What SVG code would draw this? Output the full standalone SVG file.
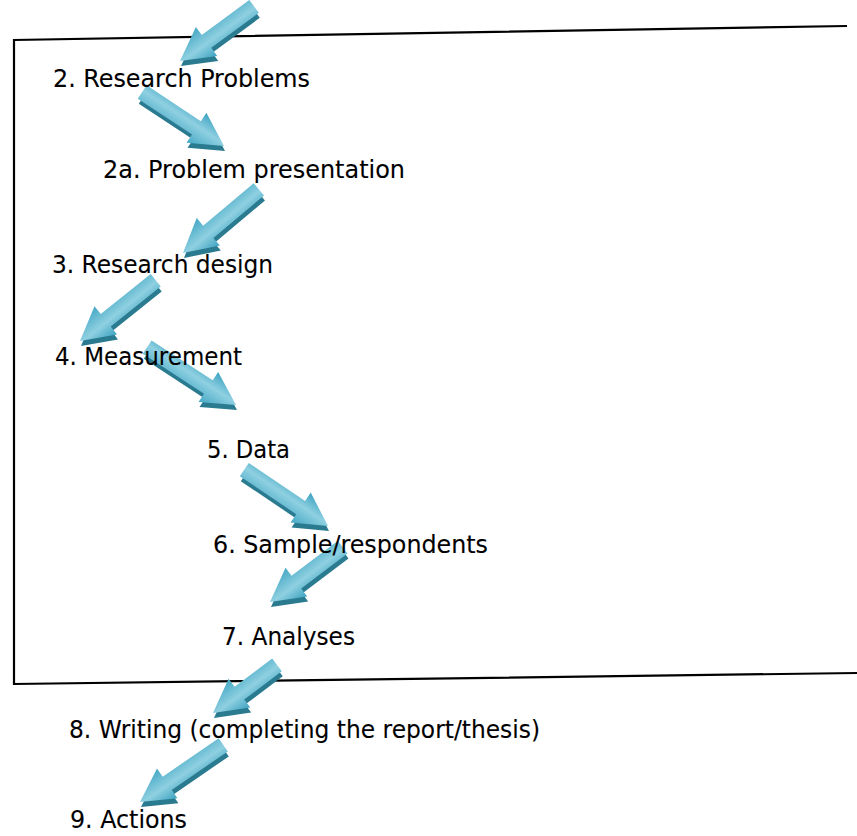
<svg xmlns="http://www.w3.org/2000/svg" width="857" height="836" viewBox="0 0 857 836">
<style>
.lbl{font-family:"DejaVu Sans","Liberation Sans",sans-serif;font-size:24px;fill:#000;stroke:#000;stroke-width:0.1}
.ar{fill:url(#g)}
.sh{fill:#2a7a90}
.frame{fill:none;stroke:#000;stroke-width:2.2}
</style>
<defs>
<linearGradient id="g" gradientUnits="userSpaceOnUse" x1="0" y1="-18" x2="0" y2="18">
<stop offset="0" stop-color="#3da3c1"/>
<stop offset="0.45" stop-color="#8fd0e1"/>
<stop offset="1" stop-color="#45a8c5"/>
</linearGradient>
</defs>
<g id="frame">
<polyline class="frame" points="847,26 14,40 14,684 857,673"/>
</g>
<g id="connectors">
<g transform="translate(180,61)"><path class="sh" transform="translate(1,5) rotate(143.6)" d="M0,0 L-33,-18 L-33,-8 L-92,-8 L-92,8 L-33,8 L-33,18 Z"/><path class="ar" transform="rotate(143.6)" d="M0,0 L-33,-18 L-33,-8 L-92,-8 L-92,8 L-33,8 L-33,18 Z"/></g>
<g transform="translate(224,146)"><path class="sh" transform="translate(1,5) rotate(33.4)" d="M0,0 L-33,-18 L-33,-8 L-98,-8 L-98,8 L-33,8 L-33,18 Z"/><path class="ar" transform="rotate(33.4)" d="M0,0 L-33,-18 L-33,-8 L-98,-8 L-98,8 L-33,8 L-33,18 Z"/></g>
<g transform="translate(183,253)"><path class="sh" transform="translate(1,5) rotate(140)" d="M0,0 L-33,-18 L-33,-8 L-99,-8 L-99,8 L-33,8 L-33,18 Z"/><path class="ar" transform="rotate(140)" d="M0,0 L-33,-18 L-33,-8 L-99,-8 L-99,8 L-33,8 L-33,18 Z"/></g>
<g transform="translate(80,341)"><path class="sh" transform="translate(1,5) rotate(141.3)" d="M0,0 L-33,-18 L-33,-8 L-97,-8 L-97,8 L-33,8 L-33,18 Z"/><path class="ar" transform="rotate(141.3)" d="M0,0 L-33,-18 L-33,-8 L-97,-8 L-97,8 L-33,8 L-33,18 Z"/></g>
<g transform="translate(236,405)"><path class="sh" transform="translate(1,5) rotate(33.1)" d="M0,0 L-33,-18 L-33,-8 L-106,-8 L-106,8 L-33,8 L-33,18 Z"/><path class="ar" transform="rotate(33.1)" d="M0,0 L-33,-18 L-33,-8 L-106,-8 L-106,8 L-33,8 L-33,18 Z"/></g>
<g transform="translate(328,526)"><path class="sh" transform="translate(1,5) rotate(34)" d="M0,0 L-33,-18 L-33,-8 L-101,-8 L-101,8 L-33,8 L-33,18 Z"/><path class="ar" transform="rotate(34)" d="M0,0 L-33,-18 L-33,-8 L-101,-8 L-101,8 L-33,8 L-33,18 Z"/></g>
<g transform="translate(270,602)"><path class="sh" transform="translate(1,5) rotate(143)" d="M0,0 L-33,-18 L-33,-8 L-91,-8 L-91,8 L-33,8 L-33,18 Z"/><path class="ar" transform="rotate(143)" d="M0,0 L-33,-18 L-33,-8 L-91,-8 L-91,8 L-33,8 L-33,18 Z"/></g>
<g transform="translate(213,713)"><path class="sh" transform="translate(1,5) rotate(143.1)" d="M0,0 L-33,-18 L-33,-8 L-80,-8 L-80,8 L-33,8 L-33,18 Z"/><path class="ar" transform="rotate(143.1)" d="M0,0 L-33,-18 L-33,-8 L-80,-8 L-80,8 L-33,8 L-33,18 Z"/></g>
<g transform="translate(140,802)"><path class="sh" transform="translate(1,5) rotate(145.5)" d="M0,0 L-33,-18 L-33,-8 L-101,-8 L-101,8 L-33,8 L-33,18 Z"/><path class="ar" transform="rotate(145.5)" d="M0,0 L-33,-18 L-33,-8 L-101,-8 L-101,8 L-33,8 L-33,18 Z"/></g>
</g>
<g id="n2"><text class="lbl" x="53" y="87" textLength="257" lengthAdjust="spacingAndGlyphs">2. Research Problems</text></g>
<g id="n2a"><text class="lbl" x="103" y="178" textLength="302" lengthAdjust="spacingAndGlyphs">2a. Problem presentation</text></g>
<g id="n3"><text class="lbl" x="52" y="273" textLength="221" lengthAdjust="spacingAndGlyphs">3. Research design</text></g>
<g id="n4"><text class="lbl" x="55" y="365" textLength="187" lengthAdjust="spacingAndGlyphs">4. Measurement</text></g>
<g id="n5"><text class="lbl" x="207" y="458" textLength="83" lengthAdjust="spacingAndGlyphs">5. Data</text></g>
<g id="n6"><text class="lbl" x="213" y="553" textLength="275" lengthAdjust="spacingAndGlyphs">6. Sample/respondents</text></g>
<g id="n7"><text class="lbl" x="222" y="645" textLength="133" lengthAdjust="spacingAndGlyphs">7. Analyses</text></g>
<g id="n8"><text class="lbl" x="69" y="738" textLength="471" lengthAdjust="spacingAndGlyphs">8. Writing (completing the report/thesis)</text></g>
<g id="n9"><text class="lbl" x="70" y="828" textLength="117" lengthAdjust="spacingAndGlyphs">9. Actions</text></g>
</svg>
